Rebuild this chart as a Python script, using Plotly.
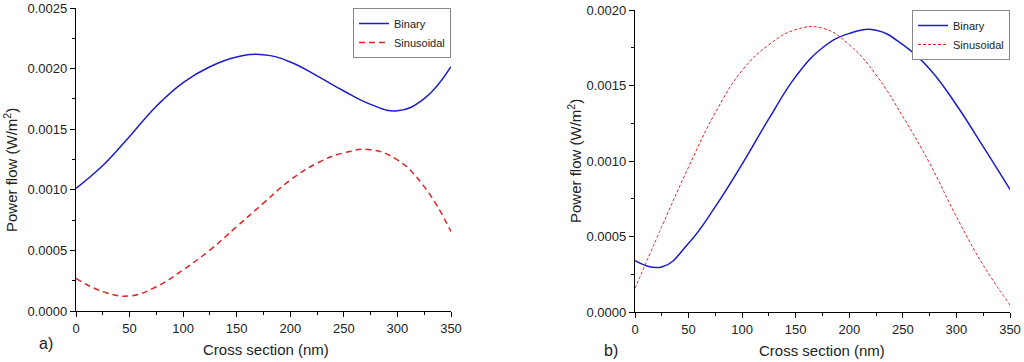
import plotly.graph_objects as go

# ---------------- data ----------------
x_nm = [0, 25, 50, 75, 100, 125, 150, 175, 200, 225, 250, 275, 300, 325, 350]

ya_bin = [0.001012, 0.001200, 0.001440, 0.001690, 0.001885, 0.002015, 0.002095, 0.002115,
          0.002055, 0.001940, 0.001815, 0.001705, 0.001652, 0.001752, 0.002016]
ya_sin = [0.00027, 0.00016, 0.000124, 0.0002, 0.00034, 0.000503, 0.000696, 0.00089,
          0.00108, 0.00122, 0.001305, 0.00133, 0.001246, 0.001026, 0.000655]

yb_bin = [0.00034, 0.000298, 0.000455, 0.000698, 0.00098, 0.00128, 0.001559, 0.00175,
          0.001845, 0.001866, 0.00177, 0.00161, 0.001371, 0.001095, 0.000812]
yb_sin = [0.000157, 0.000565, 0.00096, 0.00132, 0.00160, 0.00177, 0.00187, 0.00188,
          0.00177, 0.00157, 0.001294, 0.000985, 0.000631, 0.000311, 0.000046]

series_names = ["Binary", "Sinusoidal"]
x_title = "Cross section (nm)"
y_title = "Power flow (W/m<sup>2</sup>)"
panel_labels = ["a)", "b)"]

# ---------------- style ----------------
W, H = 1024, 362
BLUE = "#1c1cc8"
RED = "#e02424"
FONT = "Liberation Sans, Arial, sans-serif"
SMOOTH = 1.25

def px_x(p):
    return p / W

def px_y(p):
    return 1 - p / H

dom_a_x = [px_x(76), px_x(451)]
dom_a_y = [px_y(311), px_y(8)]
dom_b_x = [px_x(635), px_x(1010)]
dom_b_y = [px_y(312), px_y(10)]

fig = go.Figure()

fig.add_trace(go.Scatter(x=x_nm, y=ya_bin, name=series_names[0], mode="lines",
                         line=dict(color=BLUE, width=1.5, shape="spline", smoothing=SMOOTH),
                         xaxis="x", yaxis="y", legend="legend"))
fig.add_trace(go.Scatter(x=x_nm, y=ya_sin, name=series_names[1], mode="lines",
                         line=dict(color=RED, width=1.5, dash="6px,4px", shape="spline", smoothing=SMOOTH),
                         xaxis="x", yaxis="y", legend="legend"))
fig.add_trace(go.Scatter(x=x_nm, y=yb_bin, name=series_names[0], mode="lines",
                         line=dict(color=BLUE, width=1.5, shape="spline", smoothing=SMOOTH),
                         xaxis="x2", yaxis="y2", legend="legend2"))
fig.add_trace(go.Scatter(x=x_nm, y=yb_sin, name=series_names[1], mode="lines",
                         line=dict(color=RED, width=1, dash="3px,2px", shape="spline", smoothing=SMOOTH),
                         xaxis="x2", yaxis="y2", legend="legend2"))

tickfont = dict(family=FONT, size=13, color="#222")

def main_x(domain, anchor):
    return dict(domain=domain, anchor=anchor, range=[0, 350], dtick=50, tick0=0,
                showline=True, linecolor="black", linewidth=1.3, ticks="outside",
                ticklen=5, tickwidth=1.2, tickcolor="black", showgrid=False, zeroline=False,
                tickfont=tickfont, automargin=False,
                minor=dict(ticks="outside", dtick=25, ticklen=3, tickcolor="black", tickwidth=1, showgrid=False))

def main_y(domain, anchor, rng):
    return dict(domain=domain, anchor=anchor, range=rng, dtick=0.0005, tick0=0,
                showline=True, linecolor="black", linewidth=1.3, ticks="outside",
                ticklen=5, tickwidth=1.2, tickcolor="black", showgrid=False, zeroline=False,
                tickformat=".4f", tickfont=tickfont, automargin=False,
                minor=dict(ticks="outside", dtick=0.00025, ticklen=3, tickcolor="black", tickwidth=1, showgrid=False))

def mirror_x(over, anchor):
    return dict(overlaying=over, anchor=anchor, side="top", range=[0, 350], dtick=50, tick0=0,
                showline=True, linecolor="black", linewidth=1.3, ticks="inside", ticklen=5,
                tickwidth=1.2, tickcolor="black", showticklabels=False, showgrid=False,
                zeroline=False, automargin=False,
                minor=dict(ticks="inside", dtick=25, ticklen=3, tickcolor="black", tickwidth=1, showgrid=False))

def mirror_y(over, anchor, rng):
    return dict(overlaying=over, anchor=anchor, side="right", range=rng, dtick=0.0005, tick0=0,
                showline=True, linecolor="black", linewidth=1.3, ticks="inside", ticklen=5,
                tickwidth=1.2, tickcolor="black", showticklabels=False, showgrid=False,
                zeroline=False, automargin=False,
                minor=dict(ticks="inside", dtick=0.00025, ticklen=3, tickcolor="black", tickwidth=1, showgrid=False))

legend_style = dict(bgcolor="white", bordercolor="#888", borderwidth=1,
                    font=dict(family=FONT, size=11, color="#222"),
                    xanchor="right", yanchor="top", tracegroupgap=0, itemwidth=30)

fig.update_layout(
    width=W, height=H,
    margin=dict(l=0, r=0, t=0, b=0),
    paper_bgcolor="white", plot_bgcolor="white",
    showlegend=True,
    xaxis=main_x(dom_a_x, "y"),
    yaxis=main_y(dom_a_y, "x", [0, 0.0025]),
    xaxis2=main_x(dom_b_x, "y2"),
    yaxis2=main_y(dom_b_y, "x2", [0, 0.0020]),
    xaxis3=mirror_x("x", "y"),
    yaxis3=mirror_y("y", "x", [0, 0.0025]),
    xaxis4=mirror_x("x2", "y2"),
    yaxis4=mirror_y("y2", "x2", [0, 0.0020]),
    legend=dict(x=px_x(451), y=px_y(8), **legend_style),
    legend2=dict(x=px_x(1010), y=px_y(10), **legend_style),
)

ann_font = dict(family=FONT, size=15, color="#222")
annotations = [
    dict(text=x_title, x=px_x(266), y=px_y(349), xref="paper", yref="paper",
         showarrow=False, font=ann_font, xanchor="center", yanchor="middle"),
    dict(text=x_title, x=px_x(822), y=px_y(350), xref="paper", yref="paper",
         showarrow=False, font=ann_font, xanchor="center", yanchor="middle"),
    dict(text=y_title, x=px_x(10), y=px_y(170), xref="paper", yref="paper", textangle=-90,
         showarrow=False, font=ann_font, xanchor="center", yanchor="middle"),
    dict(text=y_title, x=px_x(575), y=px_y(161), xref="paper", yref="paper", textangle=-90,
         showarrow=False, font=ann_font, xanchor="center", yanchor="middle"),
    dict(text=panel_labels[0], x=px_x(46), y=px_y(343), xref="paper", yref="paper",
         showarrow=False, font=dict(family=FONT, size=16, color="#222"), xanchor="center", yanchor="middle"),
    dict(text=panel_labels[1], x=px_x(611), y=px_y(350), xref="paper", yref="paper",
         showarrow=False, font=dict(family=FONT, size=16, color="#222"), xanchor="center", yanchor="middle"),
]
fig.update_layout(annotations=annotations)

fig.write_html("out.html", config={"displayModeBar": False},
               post_script="document.body.style.margin='0';document.body.style.overflow='hidden';")
